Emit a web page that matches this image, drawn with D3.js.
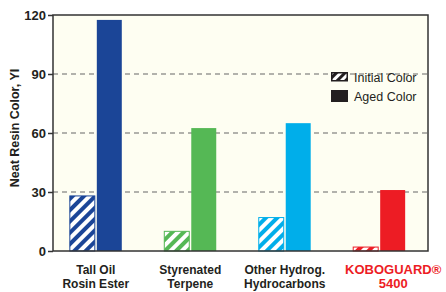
<!DOCTYPE html>
<html>
<head>
<meta charset="utf-8">
<script src="https://cdn.jsdelivr.net/npm/d3@7"></script>
<style>
  body { margin: 0; background: #fff; }
  text { font-family: "Liberation Sans", Arial, sans-serif; }
</style>
</head>
<body>
<svg id="chart"></svg>
<script>
const width = 446, height = 292;

// data
const categories = ["Tall Oil|Rosin Ester", "Styrenated|Terpene", "Other Hydrog.|Hydrocarbons", "KOBOGUARD®|5400"];
const initialColor = [28, 10, 17, 2];
const agedColor = [117.5, 62.5, 65, 31];
const barColors = ["#1b4597", "#55b855", "#00aeea", "#ed1c24"];
const yTicks = [0, 30, 60, 90, 120];

const margin = {top: 15, right: 18, bottom: 41, left: 53};
const narrow = "'Liberation Sans Narrow', 'Arial Narrow', sans-serif";

const svg = d3.select("#chart")
  .attr("width", width)
  .attr("height", height);

const defs = svg.append("defs");
barColors.forEach(function(c, i) {
  const p = defs.append("pattern")
    .attr("id", "hatch" + i)
    .attr("patternUnits", "userSpaceOnUse")
    .attr("width", 8).attr("height", 8)
    .attr("patternTransform", "rotate(45)");
  p.append("rect").attr("width", 8).attr("height", 8).attr("fill", c);
  p.append("rect").attr("x", 0).attr("width", 4).attr("height", 8).attr("fill", "#fff");
});
const lp = defs.append("pattern")
  .attr("id", "hatchLegend")
  .attr("patternUnits", "userSpaceOnUse")
  .attr("width", 6).attr("height", 6)
  .attr("patternTransform", "rotate(45)");
lp.append("rect").attr("width", 6).attr("height", 6).attr("fill", "#231f20");
lp.append("rect").attr("width", 3).attr("height", 6).attr("fill", "#fff");

const x = d3.scaleBand()
  .domain(categories)
  .range([margin.left - 3, width - margin.right - 3])
  .paddingInner(0.45)
  .paddingOuter(0.21);

const y = d3.scaleLinear()
  .domain([0, 120])
  .range([height - margin.bottom, margin.top]);

// plot background
svg.append("rect")
  .attr("x", margin.left)
  .attr("y", margin.top)
  .attr("width", width - margin.left - margin.right)
  .attr("height", height - margin.top - margin.bottom)
  .attr("fill", "#fefef2");

// dashed grid
svg.append("g")
  .selectAll("line")
  .data(yTicks.filter(d => d > 0 && d < 120))
  .enter().append("line")
  .attr("x1", margin.left)
  .attr("x2", width - margin.right)
  .attr("y1", d => y(d))
  .attr("y2", d => y(d))
  .attr("stroke", "#666")
  .attr("stroke-width", 1)
  .attr("stroke-dasharray", "5,4");

const bw = x.bandwidth() / 2 - 1;

const groups = svg.append("g")
  .selectAll("g")
  .data(categories)
  .enter().append("g");

groups.append("rect")
  .attr("x", d => x(d))
  .attr("y", (d, i) => y(initialColor[i]))
  .attr("width", bw)
  .attr("height", (d, i) => y(0) - y(initialColor[i]))
  .attr("fill", (d, i) => "url(#hatch" + i + ")")
  .attr("stroke", (d, i) => barColors[i])
  .attr("stroke-width", 1);

groups.append("rect")
  .attr("x", d => x(d) + bw + 2)
  .attr("y", (d, i) => y(agedColor[i]))
  .attr("width", bw)
  .attr("height", (d, i) => y(0) - y(agedColor[i]))
  .attr("fill", (d, i) => barColors[i]);

// frame
svg.append("rect")
  .attr("x", margin.left)
  .attr("y", margin.top)
  .attr("width", width - margin.left - margin.right)
  .attr("height", height - margin.top - margin.bottom)
  .attr("fill", "none")
  .attr("stroke", "#333")
  .attr("stroke-width", 1.5);

// y axis
const yAxis = svg.append("g")
  .attr("transform", "translate(" + margin.left + ",0)")
  .call(d3.axisLeft(y).tickValues(yTicks).tickSize(5).tickPadding(2));
yAxis.select(".domain").remove();
yAxis.selectAll("line").attr("stroke", "#333").attr("stroke-width", 1.5);
yAxis.selectAll("text")
  .attr("font-size", 13)
  .attr("font-weight", "bold")
  .attr("fill", "#231f20")
  .style("font-family", narrow);

svg.append("text")
  .attr("transform", "translate(19,128) rotate(-90)")
  .attr("text-anchor", "middle")
  .attr("font-size", 12.5)
  .attr("font-weight", "bold")
  .attr("fill", "#231f20")
  .text("Neat Resin Color, YI");

// category labels
const labels = svg.append("g")
  .selectAll("text")
  .data(categories)
  .enter().append("text")
  .attr("x", (d, i) => x(d) + x.bandwidth() / 2 + (i === 3 ? 14 : 0))
  .attr("y", 274)
  .attr("text-anchor", "middle")
  .attr("font-size", (d, i) => i === 3 ? 13 : 12)
  .attr("font-weight", "bold")
  .attr("fill", (d, i) => i === 3 ? "#ed1c24" : "#231f20")
  .style("font-family", (d, i) => i === 3 ? narrow : null);
labels.selectAll("tspan")
  .data(d => d.split("|"))
  .enter().append("tspan")
  .attr("x", function() { return d3.select(this.parentNode).attr("x"); })
  .attr("dy", (d, i) => i === 0 ? 0 : 14)
  .text(d => d);

// legend
const legend = svg.append("g").attr("transform", "translate(331,72)");
legend.append("rect")
  .attr("x", 0.75).attr("y", 0.75)
  .attr("width", 15.5).attr("height", 8)
  .attr("fill", "url(#hatchLegend)")
  .attr("stroke", "#231f20")
  .attr("stroke-width", 1.5);
legend.append("text")
  .attr("x", 23).attr("y", 9.5)
  .attr("font-size", 12.5)
  .attr("fill", "#231f20")
  .style("font-family", narrow)
  .text("Initial Color");
legend.append("rect")
  .attr("x", 0).attr("y", 18)
  .attr("width", 17).attr("height", 12)
  .attr("fill", "#231f20");
legend.append("text")
  .attr("x", 23).attr("y", 29)
  .attr("font-size", 12.5)
  .attr("fill", "#231f20")
  .style("font-family", narrow)
  .text("Aged Color");
</script>
</body>
</html>
